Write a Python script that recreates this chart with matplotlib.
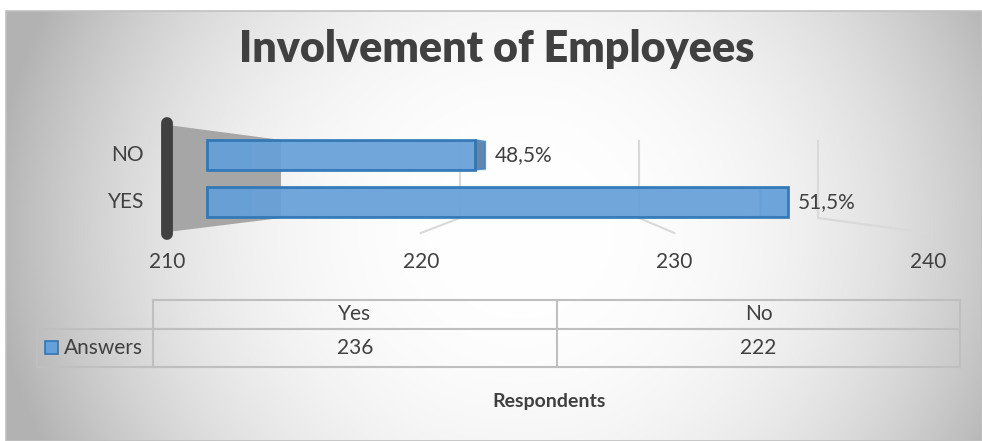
import numpy as np
import matplotlib.pyplot as plt
from matplotlib.patches import Polygon, Rectangle

plt.rcParams['font.family'] = ['Lato', 'DejaVu Sans']

title = 'Involvement of Employees'
categories = ['Yes', 'No']
bar_labels = ['YES', 'NO']
answers = [236, 222]
x_ticks = [210, 220, 230, 240]
series_name = 'Answers'
axis_title = 'Respondents'

W, H = 982, 441
text_col = '#404040'
fs = 15

fig = plt.figure(figsize=(W / 100, H / 100), dpi=100)

# background: radial grey gradient, drawn in pixel coords
bg = fig.add_axes([0, 0, 1, 1])
xx, yy = np.meshgrid(np.arange(6, W), np.arange(11, H))
r = np.sqrt(((xx - 520) / 480) ** 2 + ((yy - 230) / 450) ** 2)
grey = np.clip(1 - 0.235 * np.clip(r, 0, 1.1) ** 2.5, 0, 1)
bg.imshow(np.dstack([grey] * 3), extent=(6, W, H, 11), aspect='auto', zorder=0)
bg.add_patch(Rectangle((6, 11), W - 6, H - 11, fill=False, ec='#c0c0c0', lw=1.2, zorder=1))
bg.set_xlim(0, W)
bg.set_ylim(H, 0)
bg.axis('off')

# several overlaid axes, one per depth plane of the 3d box
L, R, T, B = 100, 960, 110, 240
y_lim = (-(B - 202) / 47, 1 + (155 - T) / 47)


def overlay(p0, s):
    ax = fig.add_axes([L / W, 1 - B / H, (R - L) / W, (B - T) / H])
    ax.set_xlim(210 + (L - p0) / s, 210 + (R - p0) / s)
    ax.set_ylim(*y_lim)
    ax.patch.set_alpha(0)
    for sp in ax.spines.values():
        sp.set_visible(False)
    ax.set_xticks([])
    ax.set_yticks([])
    return ax


ax_t = overlay(167, 25.37)  # front edge of floor (tick labels)
ax_w = overlay(281, 17.9)   # back wall
ax_b = overlay(250, 19.6)   # back faces of bars
ax_f = overlay(207, 22.35)  # front faces of bars


def on_t(ax, x, y):
    return ax_t.transData.inverted().transform(ax.transData.transform((x, y)))


base = x_ticks[0]
y_pos = np.arange(len(answers))
h = 0.64

# side wall
wall = [(base, 1.64), on_t(ax_w, base, 1.32), on_t(ax_w, base, -0.34), (base, -0.64)]
ax_t.add_patch(Polygon(np.array(wall), closed=True, fc='#a6a6a6', ec='none', zorder=1))
ax_t.plot([base, base], [-0.68, 1.68], color='#404040', lw=8.5, solid_capstyle='round', zorder=2)

# gridlines (back wall + floor)
for v in x_ticks[1:]:
    top = on_t(ax_w, v, 1.3)
    bot = on_t(ax_w, v, -0.34)
    ax_t.plot([top[0], bot[0], v], [top[1], bot[1], -0.66], color='#d9d9d9', lw=1.5, zorder=1)

widths = np.subtract(answers, base)
ax_b.barh(y_pos, widths, left=base, height=h * 0.9, fill=False, ec='#5b9bd5', lw=1, alpha=0.7, zorder=2)

# end faces of the bars
for i, v in enumerate(answers):
    for x, col, a in [(base, '#4a86c5', 0.35), (v, None, None)]:
        fr = [on_t(ax_f, x, y_pos[i] - h / 2), on_t(ax_f, x, y_pos[i] + h / 2)]
        bk = [on_t(ax_b, x, y_pos[i] + h * 0.45), on_t(ax_b, x, y_pos[i] - h * 0.45)]
        if col is None:
            if bk[0][0] > fr[0][0]:
                col, a = '#3a6a9a', 0.8
            else:
                col, a = '#5b9bd5', 0.25
        ax_t.add_patch(Polygon(np.array(fr + bk), closed=True, fc=col, ec='#2e75b6',
                               lw=1, alpha=a, zorder=3))

ax_f.barh(y_pos, widths, left=base, height=h, color='#66a0d8', ec='#2e75b6', lw=2,
          alpha=0.93, zorder=3)

# data labels
total = sum(answers)
for i, v in enumerate(answers):
    end = max(on_t(ax_f, v, 0)[0], on_t(ax_b, v, 0)[0])
    ax_t.annotate(f'{v / total * 100:.1f}%'.replace('.', ','), (end, y_pos[i]), xytext=(10, 0),
                  textcoords='offset pixels', ha='left', va='center', fontsize=fs, color=text_col)

for i, lab in enumerate(bar_labels):
    ax_t.annotate(lab, (base, y_pos[i]), xytext=(-23, 0), textcoords='offset pixels',
                  ha='right', va='center', fontsize=fs, color=text_col)

ax_t.set_xticks(x_ticks)
ax_t.tick_params(axis='x', length=0, pad=9, labelsize=fs, labelcolor=text_col)

# data table
tab_x = [37, 153, 557, 960]
tab_y = [300, 329, 367]
lc = '#bfbfbf'
bg.plot([tab_x[1], tab_x[3]], [tab_y[0], tab_y[0]], color=lc, lw=1.5)
for ty in tab_y[1:]:
    bg.plot([tab_x[0], tab_x[3]], [ty, ty], color=lc, lw=1.5)
bg.plot([tab_x[0], tab_x[0]], [tab_y[1], tab_y[2]], color=lc, lw=1.5)
for tx in tab_x[1:]:
    bg.plot([tx, tx], [tab_y[0], tab_y[2]], color=lc, lw=1.5)
for j, (c, v) in enumerate(zip(categories, answers)):
    cx = (tab_x[j + 1] + tab_x[j + 2]) / 2
    bg.text(cx, (tab_y[0] + tab_y[1]) / 2, c, ha='center', va='center', fontsize=fs, color=text_col)
    bg.text(cx, (tab_y[1] + tab_y[2]) / 2, str(v), ha='center', va='center', fontsize=fs, color=text_col)
bg.add_patch(Rectangle((45, 341), 13, 13, fc='#66a0d8', ec='#2e75b6', lw=1.2))
bg.text(64, 348, series_name, ha='left', va='center', fontsize=fs, color=text_col)

bg.text(549, 402, axis_title, ha='center', va='center', fontsize=14, weight='bold', color=text_col)
bg.text(497, 49, title, ha='center', va='center', fontsize=31, weight='heavy', color=text_col)

fig.savefig('out.png', dpi=100)
